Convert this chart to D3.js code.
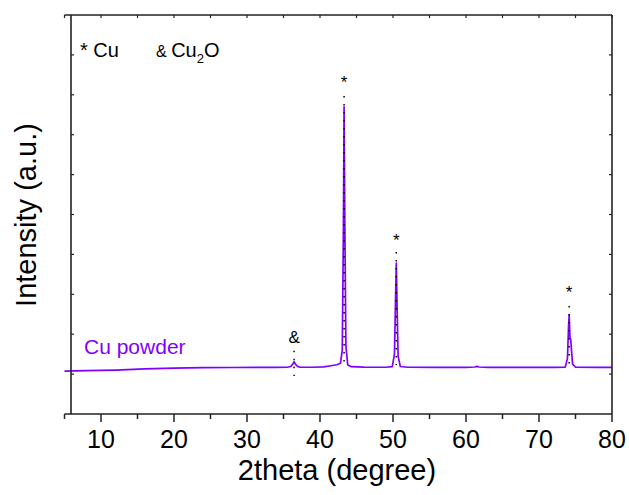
<!DOCTYPE html>
<html>
<head>
<meta charset="utf-8">
<script src="https://cdn.jsdelivr.net/npm/d3@7"></script>
<style>
  body { margin: 0; background: #fff; }
  svg { font-family: Arial, "Liberation Sans", sans-serif; }
</style>
</head>
<body>
<div id="chart"></div>
<script>
// XRD pattern of Cu powder
var theta = [5, 8, 12, 16, 20, 24, 28, 32, 34, 35.5, 36.0, 36.3, 36.45, 36.6, 36.9, 37.3,
  39, 40.5, 41.5, 42.3, 42.8, 43.05, 43.2, 43.3, 43.4, 43.55, 43.8, 44.3, 46, 49,
  49.9, 50.2, 50.35, 50.45, 50.55, 50.7, 51.0, 52, 56, 60, 61.2, 61.5, 61.8, 63,
  68, 72, 73.6, 73.9, 74.05, 74.13, 74.25, 74.35, 74.45, 74.6, 75, 78, 80];
var intensity = [1075, 1085, 1100, 1130, 1150, 1160, 1165, 1168, 1170, 1172, 1190, 1260, 1310, 1260, 1195, 1172,
  1172, 1180, 1210, 1235, 1270, 1600, 4500, 7700, 4800, 1700, 1230, 1185, 1175, 1172,
  1185, 1500, 2900, 3780, 2800, 1450, 1190, 1172, 1170, 1170, 1178, 1195, 1178, 1170,
  1168, 1168, 1175, 1400, 2200, 2480, 1900, 1860, 1600, 1250, 1172, 1168, 1168];

// dotted reference lines and the phase marks above them
var refPos = [36.45, 43.3, 50.45, 74.13];
var refTop = [1586, 7970, 4060, 2707];
var refBottom = [952, 1228, 1228, 1228];
var markText = ["&", "*", "*", "*"];
var markY = [1767, 8170, 4210, 2907];

// axis ticks
var xMajor = [10, 20, 30, 40, 50, 60, 70, 80];
var xMinor = [5, 15, 25, 35, 45, 55, 65, 75];
var yTicks = [1000, 2000, 3000, 4000, 5000, 6000, 7000, 8000, 9000];

var W = 629, H = 495;
var purple = "#8000ff", axisCol = "#222";

var svg = d3.select("#chart").append("svg")
    .attr("width", W)
    .attr("height", H);

var x = d3.scaleLinear().domain([5, 80]).range([64.5, 612]);
var y = d3.scaleLinear().domain([0, 10000]).range([414, 15]);
var yAxisX = 71; // left axis sits a little inside the x range, like the original

// data line
var pts = theta.map(function(t, i) { return [t, intensity[i]]; });
svg.append("path")
    .datum(pts)
    .attr("fill", "none")
    .attr("stroke", purple)
    .attr("stroke-width", 1.7)
    .attr("stroke-linejoin", "round")
    .attr("d", d3.line()
        .x(function(d) { return x(d[0]); })
        .y(function(d) { return y(d[1]); }));

// dotted reference lines
svg.selectAll(".ref")
    .data(refPos)
  .enter().append("line")
    .attr("class", "ref")
    .attr("x1", function(d) { return x(d); })
    .attr("x2", function(d) { return x(d); })
    .attr("y1", function(d, i) { return y(refTop[i]); })
    .attr("y2", function(d, i) { return y(refBottom[i]); })
    .attr("stroke", "#000")
    .attr("stroke-width", 1.5)
    .attr("stroke-dasharray", "1.5,6.5");

// marks
svg.selectAll(".mark")
    .data(refPos)
  .enter().append("text")
    .attr("class", "mark")
    .attr("x", function(d) { return x(d); })
    .attr("y", function(d, i) { return y(markY[i]); })
    .attr("text-anchor", "middle")
    .style("font-size", "17px")
    .text(function(d, i) { return markText[i]; });

// bottom axis: major ticks outward, minor shorter
var bottom = svg.append("g").attr("transform", "translate(0,414)");
bottom.selectAll(".maj").data(xMajor).enter().append("line")
    .attr("x1", function(d) { return x(d); }).attr("x2", function(d) { return x(d); })
    .attr("y1", 0).attr("y2", 8)
    .attr("stroke", axisCol).attr("stroke-width", 1.5);
bottom.selectAll(".min").data(xMinor).enter().append("line")
    .attr("x1", function(d) { return x(d); }).attr("x2", function(d) { return x(d); })
    .attr("y1", 0).attr("y2", 5)
    .attr("stroke", axisCol).attr("stroke-width", 1.5);
bottom.selectAll(".lab").data(xMajor).enter().append("text")
    .attr("x", function(d) { return x(d); })
    .attr("y", 34)
    .attr("text-anchor", "middle")
    .style("font-size", "25px")
    .text(function(d) { return d; });

// top axis ticks inward
svg.append("g").selectAll("line").data(xMajor.concat(xMinor)).enter().append("line")
    .attr("x1", function(d) { return x(d); }).attr("x2", function(d) { return x(d); })
    .attr("y1", 15).attr("y2", 18)
    .attr("stroke", axisCol).attr("stroke-width", 1.2);

// left and right ticks inward
svg.append("g").selectAll("line").data(yTicks).enter().append("line")
    .attr("x1", yAxisX).attr("x2", yAxisX + 3)
    .attr("y1", function(d) { return y(d); }).attr("y2", function(d) { return y(d); })
    .attr("stroke", axisCol).attr("stroke-width", 1.2);
svg.append("g").selectAll("line").data(yTicks).enter().append("line")
    .attr("x1", 612).attr("x2", 609)
    .attr("y1", function(d) { return y(d); }).attr("y2", function(d) { return y(d); })
    .attr("stroke", axisCol).attr("stroke-width", 1.2);

// frame
svg.append("line").attr("x1", 64.5).attr("x2", 612).attr("y1", 414).attr("y2", 414)
    .attr("stroke", axisCol).attr("stroke-width", 1.6);
svg.append("line").attr("x1", 64.5).attr("x2", 612).attr("y1", 15).attr("y2", 15)
    .attr("stroke", axisCol).attr("stroke-width", 1.6);
svg.append("line").attr("x1", yAxisX).attr("x2", yAxisX).attr("y1", 15).attr("y2", 414)
    .attr("stroke", axisCol).attr("stroke-width", 1.6);
svg.append("line").attr("x1", 612).attr("x2", 612).attr("y1", 15).attr("y2", 414)
    .attr("stroke", axisCol).attr("stroke-width", 1.6);

// axis titles
svg.append("text")
    .attr("x", 337).attr("y", 480)
    .attr("text-anchor", "middle")
    .style("font-size", "29px")
    .text("2theta (degree)");
svg.append("text")
    .attr("transform", "translate(36,215) rotate(-90)")
    .attr("text-anchor", "middle")
    .style("font-size", "29px")
    .text("Intensity (a.u.)");

// legend
var leg = svg.append("text").attr("x", 80).attr("y", 57).style("font-size", "20px");
leg.append("tspan").text("* Cu");
var leg2 = svg.append("text").attr("x", 156).attr("y", 57).style("font-size", "20px");
leg2.append("tspan").style("font-size", "16px").text("& ");
leg2.append("tspan").text("Cu");
leg2.append("tspan").attr("dy", 6).style("font-size", "13px").text("2");
leg2.append("tspan").attr("dy", -6).text("O");

// sample label
svg.append("text")
    .attr("x", 84).attr("y", 354)
    .style("font-size", "21px")
    .attr("fill", purple)
    .text("Cu powder");
</script>
</body>
</html>
